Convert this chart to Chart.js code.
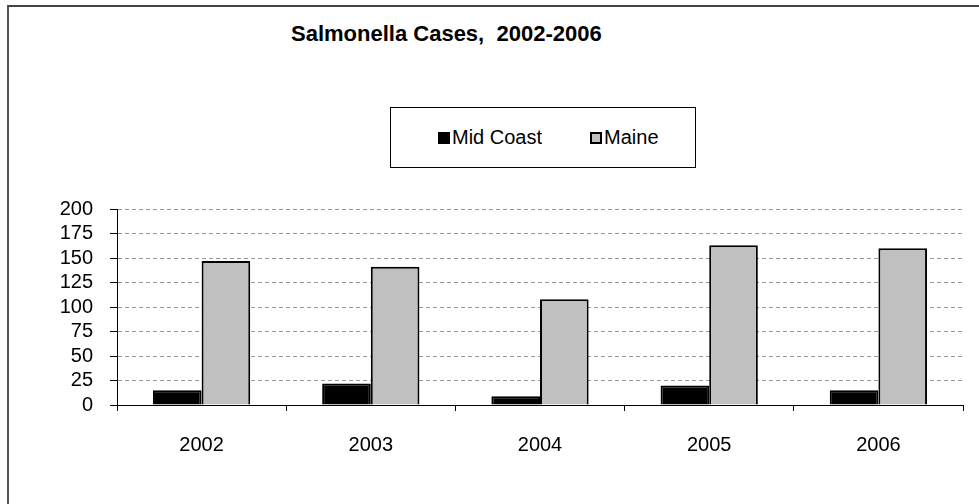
<!DOCTYPE html>
<html>
<head>
<meta charset="utf-8">
<script src="https://cdn.jsdelivr.net/npm/chart.js@4"></script>
<style>
    body { margin: 0; background: #fff; font-family: 'Liberation Sans', Arial, sans-serif; }
    #wrap { position: relative; width: 979px; height: 504px; overflow: hidden; }
    #frame { position: absolute; left: 7px; top: 5px; width: 1000px; height: 600px;
             border-top: 2px solid #444; border-left: 2px solid #555; }
    #title { position: absolute; left: 291px; top: 23px; font-size: 22px; line-height: 22px;
             font-weight: bold; white-space: pre; color: #000; }
    #legend { position: absolute; left: 390px; top: 107px; width: 304px; height: 59px;
              border: 1px solid #000; display: flex; align-items: center; justify-content: flex-start;
              padding-left: 47px; box-sizing: border-box; width: 306px; height: 61px;
              font-size: 20px; color: #000; }
    .item { display: flex; align-items: center; }
    .item:first-child { margin-right: 48px; }
    .swatch { width: 8px; height: 8px; border: 2px solid #000; margin-right: 2px; }
    canvas { position: absolute; left: 0; top: 0; }
</style>
</head>
<body>
<div id="wrap">
    <div id="frame"></div>
    <div id="title"></div>
    <div id="legend"></div>
    <canvas id="chart" width="979" height="504"></canvas>
</div>
<script>
// Chart data
const chartTitle = 'Salmonella Cases,  2002-2006';
const years = ['2002', '2003', '2004', '2005', '2006'];
const seriesNames = ['Mid Coast', 'Maine'];
const midCoast = [15, 22, 9, 20, 15];
const maine = [147, 141, 108, 163, 160];
const seriesColors = ['#000000', '#c0c0c0'];
const yTicks = [0, 25, 50, 75, 100, 125, 150, 175, 200];

const FONT = "'Liberation Sans', Arial, sans-serif";

document.getElementById('title').textContent = chartTitle;

// Boxed legend, built from the series
const legendEl = document.getElementById('legend');
seriesNames.forEach((name, i) => {
    const item = document.createElement('div');
    item.className = 'item';
    const sw = document.createElement('div');
    sw.className = 'swatch';
    sw.style.background = seriesColors[i];
    const label = document.createElement('span');
    label.textContent = name;
    item.appendChild(sw);
    item.appendChild(label);
    legendEl.appendChild(item);
});

const ctx = document.getElementById('chart').getContext('2d');
new Chart(ctx, {
    type: 'bar',
    data: {
        labels: years,
        datasets: [
            {
                label: seriesNames[0],
                data: midCoast,
                backgroundColor: seriesColors[0],
                borderColor: '#000',
                borderWidth: 2
            },
            {
                label: seriesNames[1],
                data: maine,
                backgroundColor: seriesColors[1],
                borderColor: '#000',
                borderWidth: 2
            }
        ]
    },
    options: {
        responsive: false,
        animation: false,
        layout: {
            padding: { top: 209, right: 16, left: 0, bottom: 0 }
        },
        plugins: {
            legend: { display: false },
            tooltip: { enabled: false }
        },
        datasets: {
            bar: {
                categoryPercentage: 0.575,
                barPercentage: 1
            }
        },
        scales: {
            x: {
                offset: true,
                grid: {
                    offset: true,
                    drawOnChartArea: false,
                    color: '#000',
                    tickLength: 6
                },
                border: { color: '#000', width: 1 },
                ticks: {
                    color: '#000',
                    padding: 22,
                    font: { family: FONT, size: 20 }
                },
                afterFit: function(scale) {
                    scale.height = 99;
                }
            },
            y: {
                min: 0,
                max: 200,
                afterBuildTicks: function(scale) {
                    scale.ticks = yTicks.map(v => ({ value: v }));
                },
                grid: {
                    color: '#999',
                    lineWidth: 1,
                    tickColor: '#000',
                    tickLength: 7,
                    tickBorderDash: []
                },
                // dash applies to the gridlines; the axis line itself stays solid
                border: { color: '#000', width: 1, dash: [4, 3] },
                ticks: {
                    autoSkip: false,
                    color: '#000',
                    padding: 17,
                    font: { family: FONT, size: 20 }
                },
                afterFit: function(scale) {
                    scale.width = 117;
                }
            }
        }
    }
});
</script>
</body>
</html>
